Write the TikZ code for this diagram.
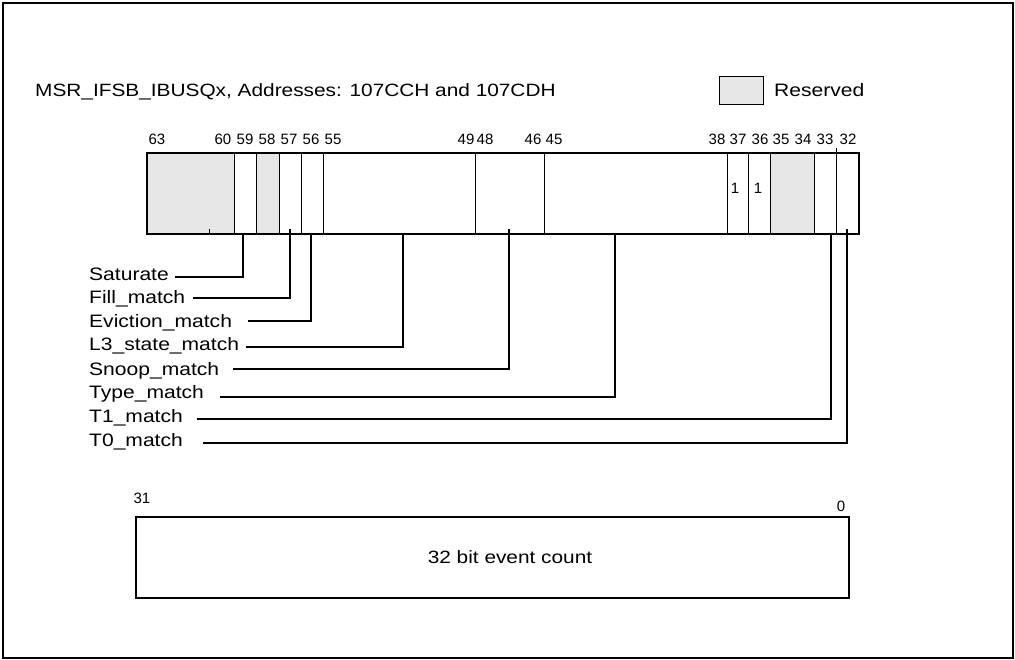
\documentclass[tikz,border=0pt]{standalone}
\usepackage{fontspec}
\setmainfont[FakeStretch=1.17]{Liberation Sans}
\newfontfamily\bitfont{Liberation Sans}
\usetikzlibrary{calc}
\definecolor{ResClr}{rgb}{0.902,0.902,0.902}

\begin{document}
\begin{tikzpicture}[x=1pt,y=-1pt,
  regline/.style={line width=2pt},
  divline/.style={line width=1pt},
  leader/.style={line width=1.3pt},
  bitnum/.style={inner sep=0pt,anchor=base,font=\bitfont\fontsize{15}{15}\selectfont},
  fieldlbl/.style={inner sep=0pt,anchor=base west,font=\fontsize{18}{18}\selectfont}]
\useasboundingbox (0,0) rectangle (1015,660);
\draw[regline] (3,3) rectangle (1013,658);

\node[inner sep=0pt,anchor=base west,font=\fontsize{17.8}{18}\selectfont] (title) at (35,97) {MSR\_IFSB\_IBUSQx, Addresses: 107CCH and 107CDH};
\node[draw,fill=ResClr,line width=1pt,minimum width=44,minimum height=28,anchor=north west] (legbox) at (719,76) {};
\node[fieldlbl] (legtxt) at (774,97) {Reserved};

\fill[ResClr] (146,152) rectangle (234,233);
\fill[ResClr] (256,152) rectangle (279,233);
\fill[ResClr] (770,152) rectangle (814,233);
\foreach \x in {234,256,279,301,323,475,544,727,748,770,814}
  \draw[divline] (\x,152) -- (\x,233);
\draw[divline] (836,148) -- (836,233);
\draw[divline] (209,229) -- (209,233);
\node[draw,regline,minimum width=712,minimum height=81,anchor=north west] (reg) at (146,152) {};

\foreach \b/\cx in {63/157,60/223,59/245,58/267,57/289,56/311,55/333,49/466,48/485,
                    46/533,45/554,38/717,37/738,36/760,35/781,34/803,33/825,32/848}
  \node[bitnum] (bit\b) at (\cx,145) {\b};
\node[bitnum] (val37) at (735,194) {1};
\node[bitnum] (val36) at (758,194) {1};

\foreach \n/\t/\bl/\sx/\ly/\bx/\ty in {
    sat/Saturate/281/175/277/243/233,
    fill/Fill\_match/304/193/298/290/229,
    evict/Eviction\_match/327/248/321/311/233,
    lstate/L3\_state\_match/351/246/347/403/233,
    snoop/Snoop\_match/375/233/369/509/229,
    type/Type\_match/398/220/397/615/233,
    tone/T1\_match/422/197/419/831/233,
    tzero/T0\_match/446/203/443/847/229}{
  \node[fieldlbl] (\n) at (89,\bl) {\t};
  \coordinate (\n-s) at (\sx,\ly);
  \coordinate (\n-b) at (\bx,\ty);
  \draw[leader] (\n-s) -| (\n-b);
}

\node[draw,regline,minimum width=713,minimum height=81,anchor=north west] (cnt) at (135,516) {};
\node[inner sep=0pt,anchor=base,font=\fontsize{17.8}{18}\selectfont] (cnttxt) at (510,563) {32 bit event count};
\node[bitnum] (bit31) at (142,503) {31};
\node[bitnum] (bit0) at (841,511) {0};
\end{tikzpicture}
\end{document}
